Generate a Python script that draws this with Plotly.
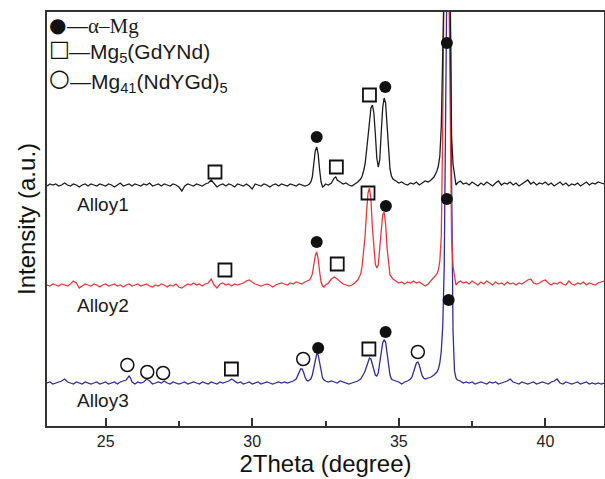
import plotly.graph_objects as go

# ---------------- data (2-theta in degrees, intensity in a.u., stacked) ----------------
alloy1_pts = [
    (23.0, 240), (23.1, 242), (23.2, 241), (23.3, 242), (23.4, 240), (23.5, 241), (23.6, 243), (23.7, 241), (23.8, 240), (23.9, 242),
    (24.0, 241), (24.1, 239), (24.2, 241), (24.3, 242), (24.4, 240), (24.5, 242), (24.6, 241), (24.7, 240), (24.8, 242), (24.9, 241),
    (25.0, 240), (25.1, 242), (25.2, 241), (25.3, 239), (25.4, 241), (25.5, 243), (25.6, 240), (25.7, 241), (25.8, 242), (25.9, 240),
    (26.0, 242), (26.1, 241), (26.2, 240), (26.3, 242), (26.4, 241), (26.5, 243), (26.6, 240), (26.7, 241), (26.8, 242), (26.9, 240),
    (27.0, 242), (27.1, 241), (27.2, 240), (27.3, 242), (27.4, 241), (27.5, 239), (27.6, 235), (27.7, 240), (27.8, 242), (27.9, 241),
    (28.0, 240), (28.1, 242), (28.2, 241), (28.3, 240), (28.4, 242), (28.5, 243), (28.6, 246), (28.7, 243), (28.8, 239), (28.9, 241),
    (29.0, 242), (29.1, 240), (29.2, 242), (29.3, 241), (29.4, 239), (29.5, 242), (29.6, 241), (29.7, 240), (29.8, 242), (29.9, 240),
    (30.0, 237), (30.1, 242), (30.2, 241), (30.3, 240), (30.4, 242), (30.5, 241), (30.6, 239), (30.7, 241), (30.8, 242), (30.9, 240),
    (31.0, 242), (31.1, 241), (31.2, 240), (31.3, 242), (31.4, 241), (31.5, 240), (31.6, 242), (31.7, 241), (31.8, 240), (31.9, 241),
    (31.95, 242), (32.0, 244), (32.05, 249), (32.1, 262), (32.15, 275), (32.2, 279), (32.25, 272), (32.3, 256), (32.35, 244),
    (32.4, 239), (32.45, 240), (32.5, 242), (32.6, 241), (32.7, 243), (32.8, 248), (32.85, 249), (32.9, 246), (33.0, 244),
    (33.1, 242), (33.2, 243), (33.3, 241), (33.4, 240), (33.5, 242), (33.6, 244), (33.7, 247), (33.75, 250), (33.8, 255),
    (33.85, 262), (33.9, 275), (33.95, 292), (34.0, 309), (34.05, 318), (34.1, 321), (34.15, 313), (34.2, 292), (34.25, 268),
    (34.3, 259), (34.35, 266), (34.4, 293), (34.45, 318), (34.5, 328), (34.55, 323), (34.6, 301), (34.65, 274), (34.7, 257),
    (34.75, 250), (34.8, 247), (34.9, 245), (35.0, 243), (35.1, 244), (35.2, 242), (35.3, 241), (35.4, 243), (35.5, 242),
    (35.6, 244), (35.7, 241), (35.8, 243), (35.9, 245), (36.0, 244), (36.1, 246), (36.2, 249), (36.3, 255), (36.35, 260),
    (36.4, 270), (36.45, 300), (36.5, 400), (36.55, 560), (36.6, 600), (36.65, 600), (36.7, 560), (36.75, 400), (36.8, 290),
    (36.85, 262), (36.9, 248), (36.95, 241), (37.0, 243), (37.1, 245), (37.2, 242), (37.3, 243), (37.4, 241), (37.5, 244),
    (37.6, 242), (37.7, 240), (37.8, 243), (37.9, 241), (38.0, 244), (38.1, 242), (38.2, 240), (38.3, 243), (38.4, 245),
    (38.5, 241), (38.6, 243), (38.7, 242), (38.8, 244), (38.9, 241), (39.0, 243), (39.1, 240), (39.2, 242), (39.3, 244),
    (39.4, 246), (39.5, 242), (39.6, 244), (39.7, 241), (39.8, 243), (39.9, 242), (40.0, 244), (40.1, 241), (40.2, 243),
    (40.3, 240), (40.4, 242), (40.5, 244), (40.6, 241), (40.7, 243), (40.8, 240), (40.9, 242), (41.0, 241), (41.1, 243),
    (41.2, 240), (41.3, 242), (41.4, 244), (41.5, 241), (41.6, 243), (41.7, 242), (41.8, 244), (41.9, 243), (42.0, 242),
]

alloy2_pts = [
    (23.0, 141), (23.1, 140), (23.2, 142), (23.3, 141), (23.4, 140), (23.5, 142), (23.6, 141), (23.7, 140), (23.8, 142), (23.9, 145),
    (24.0, 143), (24.1, 138), (24.2, 140), (24.3, 142), (24.4, 141), (24.5, 140), (24.6, 142), (24.7, 141), (24.8, 139), (24.9, 141),
    (25.0, 142), (25.1, 140), (25.2, 141), (25.3, 142), (25.4, 140), (25.5, 141), (25.6, 139), (25.7, 141), (25.8, 142), (25.9, 140),
    (26.0, 141), (26.1, 142), (26.2, 140), (26.3, 141), (26.4, 142), (26.5, 140), (26.6, 139), (26.7, 141), (26.8, 140), (26.9, 142),
    (27.0, 141), (27.1, 139), (27.2, 141), (27.3, 140), (27.4, 142), (27.5, 139), (27.6, 138), (27.7, 140), (27.8, 142), (27.9, 141),
    (28.0, 143), (28.1, 141), (28.2, 142), (28.3, 140), (28.4, 142), (28.5, 143), (28.6, 147), (28.7, 141), (28.8, 138), (28.9, 142),
    (29.0, 143), (29.1, 141), (29.2, 142), (29.3, 140), (29.4, 142), (29.5, 141), (29.6, 142), (29.7, 143), (29.8, 145), (29.9, 146),
    (30.0, 144), (30.1, 142), (30.2, 141), (30.3, 140), (30.4, 141), (30.5, 142), (30.6, 141), (30.7, 139), (30.8, 141), (30.9, 142),
    (31.0, 143), (31.1, 142), (31.2, 141), (31.3, 143), (31.4, 142), (31.5, 144), (31.6, 143), (31.7, 142), (31.8, 144), (31.9, 145),
    (31.95, 146), (32.0, 148), (32.05, 152), (32.1, 161), (32.15, 170), (32.2, 174), (32.25, 167), (32.3, 154), (32.35, 144),
    (32.4, 140), (32.45, 139), (32.5, 141), (32.6, 143), (32.7, 147), (32.8, 149), (32.9, 147), (33.0, 144), (33.1, 142),
    (33.2, 141), (33.3, 140), (33.4, 141), (33.5, 143), (33.6, 146), (33.7, 152), (33.75, 160), (33.8, 172), (33.85, 190),
    (33.9, 214), (33.95, 233), (34.0, 238), (34.05, 226), (34.1, 198), (34.15, 174), (34.2, 162), (34.25, 158), (34.3, 161),
    (34.35, 178), (34.4, 198), (34.45, 211), (34.5, 214), (34.55, 202), (34.6, 178), (34.65, 160), (34.7, 151), (34.8, 147),
    (34.9, 145), (35.0, 143), (35.1, 144), (35.2, 142), (35.3, 144), (35.4, 143), (35.5, 145), (35.6, 143), (35.7, 144),
    (35.8, 142), (35.9, 140), (36.0, 142), (36.1, 145), (36.2, 148), (36.3, 152), (36.35, 156), (36.4, 165), (36.45, 190),
    (36.5, 300), (36.55, 470), (36.6, 520), (36.65, 520), (36.7, 470), (36.75, 310), (36.8, 190), (36.85, 160), (36.9, 148),
    (36.95, 141), (37.0, 143), (37.1, 145), (37.2, 143), (37.3, 144), (37.4, 142), (37.5, 145), (37.6, 143), (37.7, 141),
    (37.8, 144), (37.9, 142), (38.0, 145), (38.1, 143), (38.2, 141), (38.3, 144), (38.4, 142), (38.5, 143), (38.6, 141),
    (38.7, 144), (38.8, 142), (38.9, 143), (39.0, 141), (39.1, 143), (39.2, 142), (39.3, 144), (39.4, 146), (39.5, 147),
    (39.6, 143), (39.7, 142), (39.8, 143), (39.9, 145), (40.0, 146), (40.1, 143), (40.2, 141), (40.3, 143), (40.4, 142),
    (40.5, 144), (40.6, 142), (40.7, 141), (40.8, 145), (40.9, 142), (41.0, 141), (41.1, 143), (41.2, 142), (41.3, 144),
    (41.4, 141), (41.5, 143), (41.6, 142), (41.7, 141), (41.8, 143), (41.9, 144), (42.0, 145),
]

alloy3_pts = [
    (23.0, 43), (23.1, 44), (23.2, 42), (23.3, 43), (23.4, 44), (23.5, 45), (23.6, 47), (23.7, 44), (23.8, 43), (23.9, 42),
    (24.0, 44), (24.1, 43), (24.2, 42), (24.3, 44), (24.4, 43), (24.5, 42), (24.6, 43), (24.7, 44), (24.8, 42), (24.9, 43),
    (25.0, 44), (25.1, 42), (25.2, 43), (25.3, 44), (25.4, 42), (25.5, 44), (25.6, 45), (25.7, 46), (25.8, 50), (25.85, 48),
    (25.9, 44), (26.0, 42), (26.1, 44), (26.2, 43), (26.3, 44), (26.4, 47), (26.5, 45), (26.6, 42), (26.7, 43), (26.8, 44),
    (26.9, 43), (27.0, 45), (27.1, 43), (27.2, 42), (27.3, 44), (27.4, 43), (27.5, 42), (27.6, 43), (27.7, 44), (27.8, 42),
    (27.9, 43), (28.0, 44), (28.1, 43), (28.2, 42), (28.3, 44), (28.4, 43), (28.5, 42), (28.6, 44), (28.7, 43), (28.8, 42),
    (28.9, 44), (29.0, 43), (29.1, 44), (29.2, 45), (29.3, 47), (29.4, 45), (29.5, 43), (29.6, 44), (29.7, 42), (29.8, 43),
    (29.9, 44), (30.0, 42), (30.1, 43), (30.2, 44), (30.3, 42), (30.4, 43), (30.5, 44), (30.6, 43), (30.7, 42), (30.8, 43),
    (30.9, 44), (31.0, 43), (31.1, 44), (31.2, 43), (31.3, 44), (31.4, 45), (31.5, 47), (31.55, 50), (31.6, 54), (31.65, 57),
    (31.7, 57), (31.75, 54), (31.8, 49), (31.85, 46), (31.9, 45), (31.95, 46), (32.0, 47), (32.05, 51), (32.1, 58), (32.15, 67),
    (32.2, 72), (32.25, 71), (32.3, 63), (32.35, 54), (32.4, 48), (32.45, 46), (32.5, 45), (32.6, 44), (32.7, 45), (32.8, 44),
    (32.9, 43), (33.0, 45), (33.1, 44), (33.2, 43), (33.3, 42), (33.4, 43), (33.5, 44), (33.6, 45), (33.7, 47), (33.75, 49),
    (33.8, 52), (33.85, 55), (33.9, 60), (33.95, 65), (34.0, 68), (34.05, 67), (34.1, 61), (34.15, 55), (34.2, 51), (34.25, 50),
    (34.3, 53), (34.35, 63), (34.4, 75), (34.45, 83), (34.5, 86), (34.55, 84), (34.6, 73), (34.65, 59), (34.7, 51), (34.75, 47),
    (34.8, 46), (34.9, 45), (35.0, 44), (35.1, 42), (35.2, 44), (35.3, 45), (35.4, 47), (35.45, 49), (35.5, 53), (35.55, 58),
    (35.6, 63), (35.65, 64), (35.7, 61), (35.75, 55), (35.8, 50), (35.85, 48), (35.9, 47), (36.0, 48), (36.1, 49), (36.2, 51),
    (36.3, 54), (36.35, 57), (36.4, 63), (36.45, 75), (36.5, 100), (36.55, 160), (36.6, 300), (36.65, 480), (36.7, 520),
    (36.75, 470), (36.8, 250), (36.85, 95), (36.9, 55), (36.95, 48), (37.0, 46), (37.1, 45), (37.2, 43), (37.3, 44), (37.4, 43),
    (37.5, 44), (37.6, 42), (37.7, 43), (37.8, 44), (37.9, 43), (38.0, 42), (38.1, 44), (38.2, 43), (38.3, 44), (38.4, 42),
    (38.5, 43), (38.6, 44), (38.7, 45), (38.8, 47), (38.9, 44), (39.0, 43), (39.1, 42), (39.2, 44), (39.3, 43), (39.4, 42),
    (39.5, 43), (39.6, 44), (39.7, 42), (39.8, 43), (39.9, 44), (40.0, 43), (40.1, 42), (40.2, 44), (40.3, 45), (40.4, 47),
    (40.5, 43), (40.6, 42), (40.7, 44), (40.8, 43), (40.9, 42), (41.0, 43), (41.1, 44), (41.2, 42), (41.3, 43), (41.4, 44),
    (41.5, 42), (41.6, 43), (41.7, 42), (41.8, 43), (41.9, 42), (42.0, 43),
]

# phase markers (peak assignments)
alpha_mg_x = [32.2, 34.54, 36.64, 32.2, 34.56, 36.64, 32.25, 34.55, 36.7]
alpha_mg_y = [289, 339, 383, 184, 220, 227, 78, 94, 126]
mg5_x = [28.73, 32.87, 34.0, 29.07, 32.9, 33.95, 29.29, 33.98]
mg5_y = [254, 259, 331, 156, 162, 233, 57, 77]
mg41_x = [25.74, 26.42, 26.96, 31.74, 35.65]
mg41_y = [61, 54, 53, 67, 74]

alloy_names = ["Alloy1", "Alloy2", "Alloy3"]
alloy_label_y = [222, 121, 26]
x_ticks = [25, 30, 35, 40]
x_minor = [27.5, 32.5, 37.5]

# ---------------- figure ----------------
def split(pts):
    return [p[0] for p in pts], [p[1] for p in pts]

fig = go.Figure()
series = [(alloy3_pts, "#2e2e96"), (alloy2_pts, "#e5383e"), (alloy1_pts, "#1c1c1c")]
for pts, col in series:
    xs, ys = split(pts)
    fig.add_trace(go.Scatter(x=xs, y=ys, mode="lines", line=dict(color=col, width=1.3),
                             showlegend=False, hoverinfo="skip"))

fig.add_trace(go.Scatter(x=alpha_mg_x, y=alpha_mg_y, mode="markers", showlegend=False,
                         marker=dict(symbol="circle", size=12, color="#111111")))
fig.add_trace(go.Scatter(x=mg5_x, y=mg5_y, mode="markers", showlegend=False,
                         marker=dict(symbol="square-open", size=13, color="#111111", line=dict(width=1.8))))
fig.add_trace(go.Scatter(x=mg41_x, y=mg41_y, mode="markers", showlegend=False,
                         marker=dict(symbol="circle-open", size=13, color="#111111", line=dict(width=1.5))))

ann = []
for name, yy in zip(alloy_names, alloy_label_y):
    ann.append(dict(x=23.97, y=yy, xref="x", yref="y", text=name, showarrow=False,
                    xanchor="left", yanchor="middle", font=dict(family="Arial", size=19, color="#1a1a1a")))

# legend (symbol glyph + text)
leg_font = dict(family="Arial", size=21, color="#1a1a1a")
sym_font = "DejaVu Sans"
ann += [
    dict(x=23.375, y=401, xref="x", yref="y", text="●", showarrow=False, xanchor="center", yanchor="middle",
         font=dict(family=sym_font, size=20, color="#111111")),
    dict(x=23.43, y=378, xref="x", yref="y", text="□", showarrow=False, xanchor="center", yanchor="middle",
         font=dict(family=sym_font, size=22, color="#111111")),
    dict(x=23.41, y=348, xref="x", yref="y", text="○", showarrow=False, xanchor="center", yanchor="middle",
         font=dict(family=sym_font, size=24, color="#111111")),
    dict(x=23.61, y=400, xref="x", yref="y", showarrow=False, xanchor="left", yanchor="middle",
         text="—<span style='font-family:Liberation Serif,Times New Roman,serif'>α–Mg</span>", font=leg_font),
    dict(x=23.67, y=373, xref="x", yref="y", showarrow=False, xanchor="left", yanchor="middle",
         text="—Mg<sub>5</sub>(GdYNd)", font=leg_font),
    dict(x=23.7, y=343, xref="x", yref="y", showarrow=False, xanchor="left", yanchor="middle",
         text="—Mg<sub>41</sub>(NdYGd)<sub>5</sub>", font=leg_font),
]

fig.update_layout(
    width=605, height=479, autosize=False,
    margin=dict(l=47, r=1, t=12, b=53),
    paper_bgcolor="white", plot_bgcolor="white",
    annotations=ann,
    xaxis=dict(range=[23, 42], tickvals=x_ticks, ticks="inside", ticklen=8, tickwidth=1.5, tickcolor="#333",
               minor=dict(tickvals=x_minor, ticks="inside", ticklen=5, tickwidth=1.5, tickcolor="#333"),
               showline=True, linewidth=2, linecolor="#333", mirror=True, showgrid=False, zeroline=False,
               automargin=False,
               tickfont=dict(family="Arial", size=16, color="#222"),
               title=dict(text="2Theta (degree)", font=dict(family="Arial", size=24, color="#111"), standoff=0)),
    yaxis=dict(range=[0, 414], showticklabels=False, ticks="", showline=True, linewidth=2, linecolor="#333",
               mirror=True, showgrid=False, zeroline=False, automargin=False,
               title=dict(text="Intensity (a.u.)", font=dict(family="Arial", size=24, color="#111"), standoff=3)),
)

post = ("document.documentElement.style.margin='0';document.body.style.margin='0';"
        "document.body.style.padding='0';document.body.style.overflow='hidden';"
        "var gd=document.getElementById('{plot_id}');Plotly.relayout(gd,{width:605,height:479});")
fig.write_html("out.html", post_script=post, config={"responsive": False, "displayModeBar": False})
